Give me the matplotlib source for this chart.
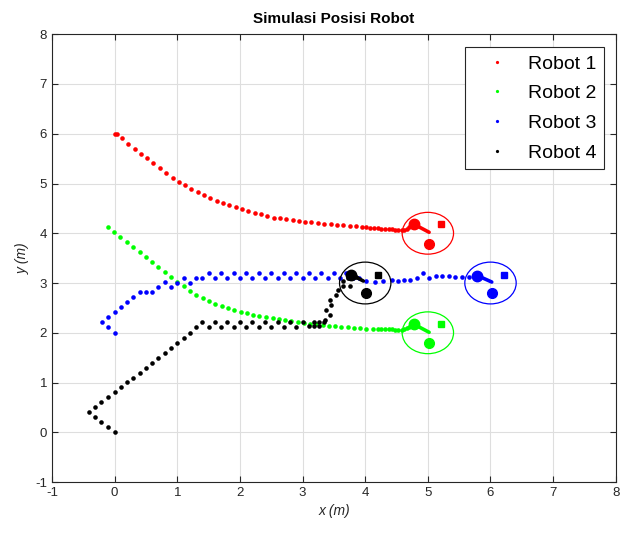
import matplotlib
matplotlib.use("Agg")
import matplotlib.pyplot as plt
from matplotlib.patches import Ellipse

plt.rcParams['font.family'] = ['Liberation Sans', 'DejaVu Sans']
plt.rcParams['axes.unicode_minus'] = False

# --- trajectories (x, y in metres)
red_x = [0.0, 0.03, 0.12, 0.22, 0.33, 0.42, 0.52, 0.62, 0.73, 0.82, 0.93, 1.02, 1.12, 1.22,
         1.33, 1.43, 1.53, 1.63, 1.73, 1.83, 1.93, 2.03, 2.13, 2.24, 2.34, 2.44, 2.54, 2.64,
         2.74, 2.84, 2.94, 3.04, 3.14, 3.25, 3.35, 3.45, 3.55, 3.65, 3.75, 3.85, 3.95, 4.02,
         4.08, 4.14, 4.20, 4.26, 4.32, 4.38, 4.43, 4.48, 4.53, 4.58, 4.62, 4.66, 4.70, 4.74]
red_y = [6.0, 6.0, 5.91, 5.80, 5.70, 5.60, 5.51, 5.41, 5.31, 5.21, 5.12, 5.03, 4.96, 4.89,
         4.83, 4.77, 4.70, 4.65, 4.60, 4.56, 4.52, 4.48, 4.44, 4.41, 4.38, 4.34, 4.31, 4.30,
         4.28, 4.26, 4.25, 4.23, 4.22, 4.20, 4.19, 4.18, 4.17, 4.16, 4.15, 4.14, 4.13, 4.12,
         4.11, 4.10, 4.10, 4.09, 4.09, 4.08, 4.08, 4.07, 4.07, 4.06, 4.07, 4.09, 4.12, 4.15]

green_x = [-0.11, -0.01, 0.09, 0.19, 0.30, 0.40, 0.50, 0.60, 0.70, 0.80, 0.90, 1.00, 1.11,
           1.20, 1.30, 1.41, 1.51, 1.61, 1.71, 1.81, 1.91, 2.01, 2.11, 2.21, 2.31, 2.41, 2.52,
           2.62, 2.72, 2.82, 2.92, 3.02, 3.12, 3.22, 3.32, 3.42, 3.52, 3.62, 3.72, 3.82, 3.92,
           4.02, 4.12, 4.20, 4.26, 4.32, 4.38, 4.43, 4.48, 4.53, 4.58, 4.62, 4.66, 4.70, 4.74]
green_y = [4.12, 4.02, 3.92, 3.82, 3.72, 3.62, 3.52, 3.42, 3.32, 3.22, 3.13, 3.03, 2.93,
           2.83, 2.76, 2.69, 2.63, 2.58, 2.54, 2.49, 2.46, 2.42, 2.39, 2.36, 2.33, 2.31, 2.29,
           2.27, 2.25, 2.23, 2.22, 2.20, 2.18, 2.17, 2.16, 2.14, 2.13, 2.12, 2.11, 2.10, 2.09,
           2.08, 2.08, 2.07, 2.07, 2.07, 2.07, 2.07, 2.06, 2.06, 2.06, 2.07, 2.09, 2.12, 2.15]

blue_x = [0.0, -0.1, -0.2, -0.1, 0.0, 0.1, 0.2, 0.3, 0.4, 0.5, 0.6, 0.7, 0.8, 0.9, 1.0,
          1.1, 1.2, 1.3, 1.4, 1.5, 1.6, 1.7, 1.8, 1.9, 2.0, 2.1, 2.2, 2.3, 2.4, 2.5, 2.6,
          2.7, 2.8, 2.9, 3.0, 3.1, 3.2, 3.3, 3.4, 3.5, 3.6, 3.7, 3.8, 3.9, 4.02, 4.15, 4.29,
          4.42, 4.53, 4.62, 4.71, 4.83, 4.92, 5.02, 5.13, 5.23, 5.34, 5.44, 5.55, 5.65]
blue_y = [2.0, 2.12, 2.22, 2.32, 2.42, 2.52, 2.62, 2.72, 2.82, 2.82, 2.82, 2.92, 3.02, 2.92,
          3.0, 3.11, 3.0, 3.11, 3.11, 3.21, 3.11, 3.21, 3.11, 3.21, 3.11, 3.21, 3.11, 3.21,
          3.11, 3.21, 3.11, 3.21, 3.11, 3.21, 3.11, 3.21, 3.11, 3.21, 3.11, 3.21, 3.11, 3.21,
          3.11, 3.11, 3.05, 3.03, 3.05, 3.07, 3.05, 3.07, 3.07, 3.10, 3.21, 3.10, 3.15, 3.15,
          3.14, 3.13, 3.12, 3.13]

black_x = [0.0, -0.1, -0.21, -0.31, -0.41, -0.31, -0.21, -0.1, 0.0, 0.1, 0.2, 0.3, 0.4,
           0.5, 0.6, 0.7, 0.8, 0.9, 1.0, 1.1, 1.2, 1.3, 1.4, 1.5, 1.6, 1.7, 1.8, 1.9, 2.0,
           2.1, 2.2, 2.3, 2.4, 2.5, 2.6, 2.7, 2.8, 2.9, 3.0, 3.1, 3.18, 3.26, 3.18, 3.26,
           3.34, 3.36, 3.38, 3.44, 3.46, 3.44, 3.54, 3.57, 3.65, 3.65, 3.75, 3.72, 3.80, 3.85]
black_y = [0.0, 0.11, 0.21, 0.31, 0.41, 0.51, 0.61, 0.71, 0.81, 0.91, 1.01, 1.10, 1.20,
           1.30, 1.40, 1.50, 1.60, 1.70, 1.80, 1.90, 2.0, 2.11, 2.22, 2.12, 2.22, 2.12, 2.22,
           2.12, 2.22, 2.12, 2.22, 2.12, 2.22, 2.12, 2.22, 2.12, 2.22, 2.12, 2.22, 2.13, 2.13,
           2.13, 2.22, 2.22, 2.22, 2.25, 2.45, 2.35, 2.55, 2.65, 2.75, 2.85, 2.95, 3.05, 2.95,
           3.10, 3.14, 3.12]

# --- robot states: current position, heading tip, goal point, square marker, formation circle
names = ['Robot 1', 'Robot 2', 'Robot 3', 'Robot 4']
colors = ['#ff0000', '#00ff00', '#0000ff', '#000000']
pos_x = [4.78, 4.78, 5.79, 3.78]
pos_y = [4.18, 2.17, 3.15, 3.17]
tip_x = [5.02, 5.02, 6.02, 3.97]
tip_y = [4.02, 2.01, 3.02, 3.04]
goal_x = [5.02, 5.02, 6.02, 4.02]
goal_y = [3.79, 1.79, 2.79, 2.79]
sq_x = [5.21, 5.21, 6.22, 4.21]
sq_y = [4.18, 2.17, 3.17, 3.17]
ring_x = [5.0, 5.0, 6.0, 4.0]
ring_y = [4.0, 2.0, 3.0, 3.0]
ring_w = 0.82
ring_h = 0.84

tracks = [(red_x, red_y), (green_x, green_y), (blue_x, blue_y), (black_x, black_y)]

fig = plt.figure(figsize=(6.22, 5.35), dpi=100)
ax = fig.add_axes([0.0836, 0.099, 0.9064, 0.837])

for i, (tx, ty) in enumerate(tracks):
    c = colors[i]
    ax.plot(tx, ty, linestyle='none', marker='o', markersize=3.3,
            markeredgewidth=0, color=c, label=names[i], zorder=3)
    ax.plot([pos_x[i], tip_x[i]], [pos_y[i], tip_y[i]], color=c, linewidth=2.6,
            solid_capstyle='round', zorder=4)
    ax.plot(pos_x[i], pos_y[i], 'o', color=c, markersize=7.5, zorder=4)
    ax.plot(goal_x[i], goal_y[i], 'o', color=c, markersize=7, zorder=4)
    ax.plot(sq_x[i], sq_y[i], 's', color=c, markersize=4.5, zorder=4)
    ax.add_patch(Ellipse((ring_x[i], ring_y[i]), ring_w, ring_h, fill=False,
                         edgecolor=c, linewidth=0.9, zorder=4))

ax.set_xlim(-1, 8)
ax.set_ylim(-1, 8)
ax.set_xticks(range(-1, 9))
ax.set_yticks(range(-1, 9))
ax.grid(True, color='#dedede', linewidth=0.8)
ax.set_axisbelow(True)
ax.tick_params(direction='in', top=True, right=True, labelsize=9.5, length=4,
               color='#262626', labelcolor='#262626')
for sp in ax.spines.values():
    sp.set_color('#262626')
    sp.set_linewidth(0.8)

ax.set_xlabel('x (m)', fontstyle='italic', fontsize=10, color='#262626', labelpad=4)
ax.set_ylabel('y (m)', fontstyle='italic', fontsize=10, color='#262626', labelpad=4)
ax.set_title('Simulasi Posisi Robot', fontweight='bold', fontsize=11, pad=8)

leg = ax.legend(loc='upper right', bbox_to_anchor=(0.979, 0.971), borderaxespad=0,
                fontsize=14, markerscale=0.7, handlelength=2.4, handletextpad=0.4,
                labelspacing=0.62, borderpad=0.4, fancybox=False, framealpha=1,
                edgecolor='#262626')
leg.get_frame().set_linewidth(0.8)

fig.savefig('out.png', dpi=100)
